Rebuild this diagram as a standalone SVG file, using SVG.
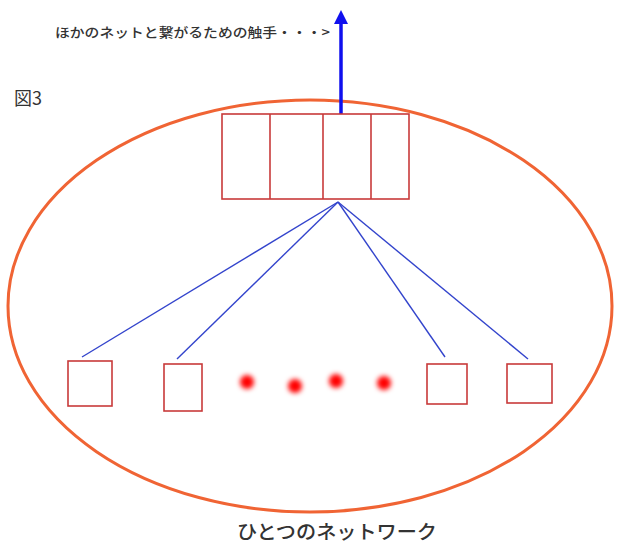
<svg xmlns="http://www.w3.org/2000/svg" width="617" height="545" viewBox="0 0 617 545">
<defs>
<style>
.lbl{font-family:"Noto Sans CJK JP","Noto Sans",sans-serif;fill:#333;}
.box{fill:none;stroke:#c83a3a;stroke-width:1.6;}
.link{stroke:#3344cc;stroke-width:1.4;fill:none;}
.dot{fill:#ff0000;filter:url(#blur);}
</style>
<filter id="blur" x="-100%" y="-100%" width="300%" height="300%"><feGaussianBlur stdDeviation="2.5"/></filter>
<marker id="ah" markerWidth="4" markerHeight="4" refX="2" refY="2" orient="auto" markerUnits="strokeWidth"><path d="M0,0 L4,2 L0,4 Z" fill="#1010ee"/></marker>
</defs>
<rect width="617" height="545" fill="#ffffff"/>
<g id="network"><ellipse cx="310" cy="306" rx="302" ry="206" fill="none" stroke="#f06434" stroke-width="3"/></g>
<g id="connectors">
<line x1="341" y1="114" x2="341" y2="17" stroke="#1010ee" stroke-width="3.5" marker-end="url(#ah)"/>
<line class="link" x1="338" y1="202" x2="82" y2="357"/>
<line class="link" x1="338" y1="202" x2="177" y2="359"/>
<line class="link" x1="338" y1="202" x2="445" y2="357"/>
<line class="link" x1="338" y1="202" x2="528" y2="359"/>
</g>
<g id="hub">
<rect class="box" x="222" y="114" width="187" height="85"/>
<line class="box" x1="270" y1="114" x2="270" y2="199"/>
<line class="box" x1="323" y1="114" x2="323" y2="199"/>
<line class="box" x1="371" y1="114" x2="371" y2="199"/>
</g>
<g id="node1"><rect class="box" x="68" y="361" width="44" height="45"/></g>
<g id="node2"><rect class="box" x="164" y="364" width="38" height="47"/></g>
<g id="node3"><rect class="box" x="427" y="364" width="40" height="40"/></g>
<g id="node4"><rect class="box" x="507" y="364" width="45" height="39"/></g>
<g id="dots">
<circle class="dot" cx="247" cy="382" r="7"/>
<circle class="dot" cx="295" cy="386" r="7"/>
<circle class="dot" cx="336" cy="381" r="7"/>
<circle class="dot" cx="384" cy="383" r="7"/>
</g>
<g id="labels">
<text class="lbl" x="55" y="37" font-size="13" font-weight="500" textLength="275" lengthAdjust="spacingAndGlyphs">ほかのネットと繋がるための触手・・・&gt;</text>
<text class="lbl" x="14" y="105" font-size="18">図3</text>
<text class="lbl" x="237" y="539" font-size="19" font-weight="500" textLength="200" lengthAdjust="spacingAndGlyphs">ひとつのネットワーク</text>
</g>
</svg>
